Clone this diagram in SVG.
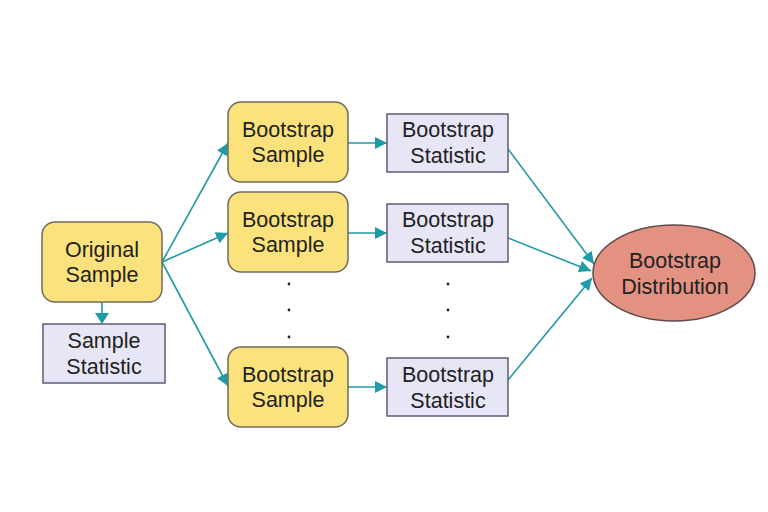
<svg xmlns="http://www.w3.org/2000/svg" width="768" height="512" viewBox="0 0 768 512">
<defs>
<style>
.samp{fill:#fce27c;stroke:#6e6b5c;stroke-width:1.5}
.stat{fill:#e6e6f6;stroke:#5c5c78;stroke-width:1.5}
.dist{fill:#e39282;stroke:#5e4a4a;stroke-width:1.5}
.t{font-family:"Liberation Sans",Arial,sans-serif;font-size:21.5px;fill:#222;text-anchor:middle}
.c{stroke:#1f9aa6;stroke-width:1.6;fill:none;marker-end:url(#ah)}
.dot{fill:#222}
</style>
<marker id="ah" viewBox="0 0 10 10" refX="10" refY="5" markerWidth="12" markerHeight="12" markerUnits="userSpaceOnUse" orient="auto"><path d="M0,0L10,5L0,10z" fill="#1f9aa6"/></marker>
</defs>
<rect width="768" height="512" fill="#fff"/>
<g id="connectors">
<line x1="102" y1="302" x2="102" y2="314" stroke="#1f9aa6" stroke-width="1.6"/>
<path d="M95,313L109,313L102,324z" fill="#1f9aa6"/>
<line class="c" x1="162" y1="262" x2="228" y2="143"/>
<line class="c" x1="162" y1="262" x2="228" y2="233"/>
<line class="c" x1="162" y1="262" x2="228" y2="386"/>
<line class="c" x1="348" y1="143" x2="387" y2="143"/>
<line class="c" x1="348" y1="233" x2="387" y2="233"/>
<line class="c" x1="348" y1="387" x2="387" y2="387"/>
<line class="c" x1="508" y1="149" x2="594" y2="264"/>
<line class="c" x1="508" y1="238" x2="591" y2="271"/>
<line class="c" x1="508" y1="380" x2="592" y2="278"/>
</g>
<g id="original">
<rect class="samp" x="42" y="222" width="120" height="80" rx="13"/>
<text class="t" x="102" y="257">Original</text>
<text class="t" x="102" y="282">Sample</text>
</g>
<g id="sampstat">
<rect class="stat" x="43" y="324" width="122" height="59"/>
<text class="t" x="104" y="348">Sample</text>
<text class="t" x="104" y="374">Statistic</text>
</g>
<g id="bs1">
<rect class="samp" x="228" y="102" width="120" height="80" rx="13"/>
<text class="t" x="288" y="137">Bootstrap</text>
<text class="t" x="288" y="162">Sample</text>
</g>
<g id="bs2">
<rect class="samp" x="228" y="192" width="120" height="80" rx="13"/>
<text class="t" x="288" y="227">Bootstrap</text>
<text class="t" x="288" y="252">Sample</text>
</g>
<g id="bs3">
<rect class="samp" x="228" y="347" width="120" height="80" rx="13"/>
<text class="t" x="288" y="382">Bootstrap</text>
<text class="t" x="288" y="407">Sample</text>
</g>
<g id="st1">
<rect class="stat" x="387" y="114" width="121" height="58"/>
<text class="t" x="448" y="137">Bootstrap</text>
<text class="t" x="448" y="163">Statistic</text>
</g>
<g id="st2">
<rect class="stat" x="387" y="204" width="121" height="58"/>
<text class="t" x="448" y="227">Bootstrap</text>
<text class="t" x="448" y="253">Statistic</text>
</g>
<g id="st3">
<rect class="stat" x="387" y="358" width="121" height="58"/>
<text class="t" x="448" y="382">Bootstrap</text>
<text class="t" x="448" y="408">Statistic</text>
</g>
<g id="dots">
<circle class="dot" cx="289" cy="284" r="1.4"/>
<circle class="dot" cx="289" cy="310" r="1.4"/>
<circle class="dot" cx="289" cy="337" r="1.4"/>
<circle class="dot" cx="448" cy="284" r="1.4"/>
<circle class="dot" cx="448" cy="310" r="1.4"/>
<circle class="dot" cx="448" cy="337" r="1.4"/>
</g>
<g id="dist">
<ellipse class="dist" cx="674" cy="273" rx="81" ry="48"/>
<text class="t" x="675" y="268">Bootstrap</text>
<text class="t" x="675" y="294">Distribution</text>
</g>
</svg>
